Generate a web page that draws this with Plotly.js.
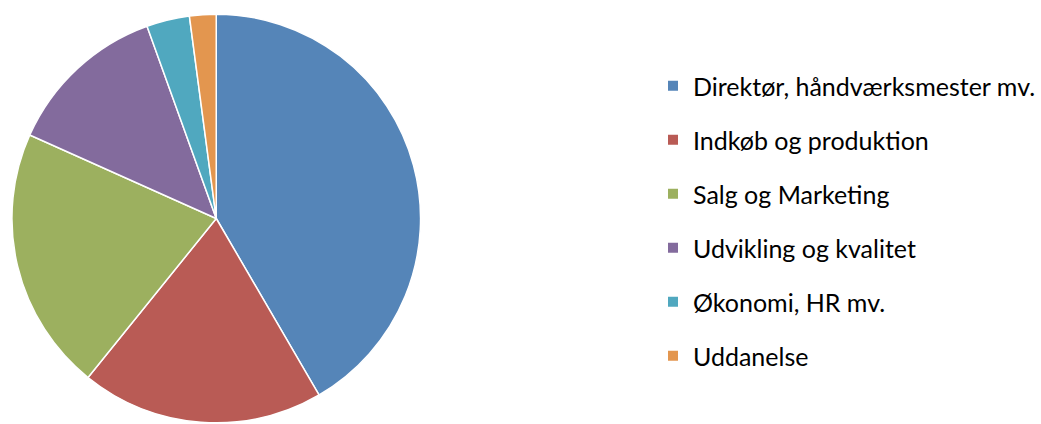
<!DOCTYPE html>
<html>
<head>
<meta charset="utf-8">
<script src="https://cdn.plot.ly/plotly-3.0.1.min.js"></script>
<style>html,body{margin:0;padding:0;background:#fff;}#chart{width:1041px;height:424px;}</style>
</head>
<body>
<div id="chart"></div>
<script>
const categories = ["Direktør, håndværksmester mv.", "Indkøb og produktion", "Salg og Marketing", "Udvikling og kvalitet", "Økonomi, HR mv.", "Uddanelse"];
const values = [41.6, 19.2, 20.9, 12.8, 3.4, 2.1];
const colors = ["#5585B8", "#B95B55", "#9CB05F", "#836B9D", "#50A8BF", "#E3964F"];

const W = 1041, H = 424;
const traces = [{
  type: "pie",
  labels: categories,
  values: values,
  sort: false,
  direction: "clockwise",
  rotation: 0,
  textinfo: "none",
  hoverinfo: "label+percent",
  marker: { colors: colors, line: { color: "#ffffff", width: 1.5 } },
  domain: { x: [12 / W, 423 / W], y: [1 - 423 / H, 1 - 14 / H] },
  showlegend: false
}];
categories.forEach((c, i) => {
  traces.push({
    type: "scatter",
    mode: "markers",
    x: [null], y: [null],
    name: c,
    legendgroup: "g" + i,
    marker: { symbol: "square", size: 10, color: colors[i], line: { width: 0 } },
    hoverinfo: "skip",
    showlegend: true
  });
});

const layout = {
  width: W, height: H,
  margin: { l: 0, r: 0, t: 0, b: 0 },
  paper_bgcolor: "#ffffff",
  plot_bgcolor: "#ffffff",
  xaxis: { visible: false },
  yaxis: { visible: false },
  showlegend: true,
  legend: {
    x: 657 / W, y: 1 - 63 / H,
    xanchor: "left", yanchor: "top",
    traceorder: "grouped",
    tracegroupgap: 18.5,
    font: { family: "Lato, 'Noto Sans', sans-serif", size: 25, color: "#000000" },
    bgcolor: "rgba(0,0,0,0)"
  }
};

Plotly.newPlot("chart", traces, layout, { displayModeBar: false, staticPlot: true });
</script>
</body>
</html>
